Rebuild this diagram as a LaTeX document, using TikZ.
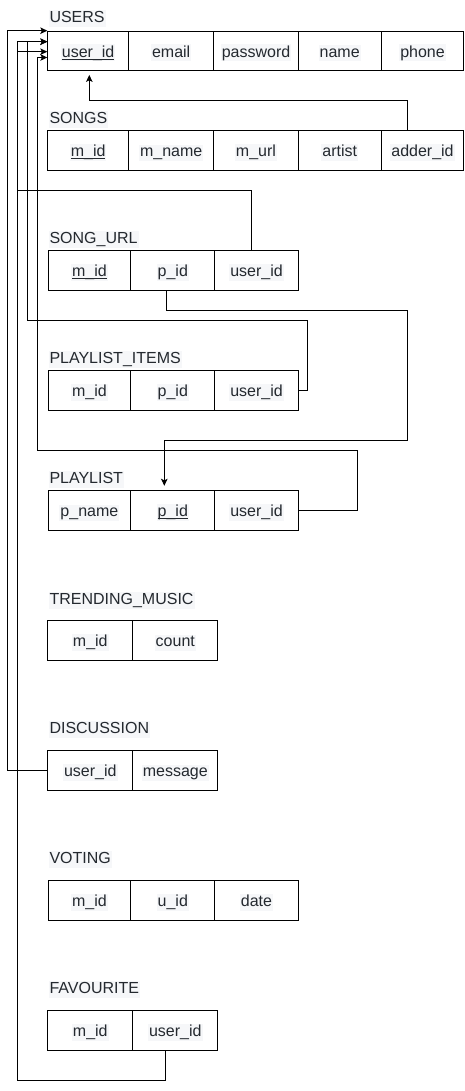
\documentclass[tikz,border=0pt]{standalone}
\usepackage{fontspec}
\setmainfont{Liberation Sans}
\usetikzlibrary{arrows.meta}
\definecolor{txt}{RGB}{36,41,47}
\definecolor{hlc}{RGB}{246,247,249}
\newcommand{\hl}[1]{{\setlength{\fboxsep}{1pt}\colorbox{hlc}{\vphantom{Ag}#1}}}
\newcommand{\ulk}[1]{\setbox0\hbox{#1}\rlap{\rule[-2.6pt]{\wd0}{1pt}}\box0}
\tikzset{
  cell/.style={draw=black, line width=1pt, anchor=north west, minimum height=39.7pt,
    inner sep=0pt, text height=14pt, text depth=2pt, text=txt, font=\fontsize{16}{19}\selectfont},
  ttl/.style={anchor=base west, inner sep=0pt, text=txt, font=\fontsize{16}{19}\selectfont},
  conn/.style={draw=black, line width=1pt},
  arr/.style={conn, -{Stealth[length=7pt,width=6.5pt,inset=1.6pt]}}
}
\begin{document}
\begin{tikzpicture}[x=1pt,y=-1pt]
\useasboundingbox (0,0) rectangle (465,1091);
% USERS
\node[ttl] (lu) at (48.3,22.5) {\hl{USERS}};
\node[cell, minimum width=80.7pt] (u1) at (47.3,30.7) {\hl{\ulk{user\_id}}};
\node[cell, minimum width=85.3pt] (u2) at (128,30.7) {\hl{email}};
\node[cell, minimum width=84.4pt] (u3) at (213.3,30.7) {\hl{password}};
\node[cell, minimum width=83pt] (u4) at (297.7,30.7) {\hl{name}};
\node[cell, minimum width=82.6pt] (u5) at (380.7,30.7) {\hl{phone}};
% SONGS
\node[ttl] (ls) at (48.3,123.3) {\hl{SONGS}};
\node[cell, minimum width=80.7pt] (s1) at (47.3,130.3) {\hl{\ulk{m\_id}}};
\node[cell, minimum width=85.3pt] (s2) at (128,130.3) {\hl{m\_name}};
\node[cell, minimum width=84.4pt] (s3) at (213.3,130.3) {\hl{m\_url}};
\node[cell, minimum width=83pt] (s4) at (297.7,130.3) {\hl{artist}};
\node[cell, minimum width=82.6pt] (s5) at (380.7,130.3) {\hl{adder\_id}};
% SONG_URL
\node[ttl] (lsu) at (48.3,243.3) {\hl{SONG\_URL}};
\node[cell, minimum width=82.8pt] (su1) at (47.5,250.3) {\hl{\ulk{m\_id}}};
\node[cell, minimum width=84pt] (su2) at (130.3,250.3) {\hl{p\_id}};
\node[cell, minimum width=83.4pt] (su3) at (214.3,250.3) {\hl{user\_id}};
% PLAYLIST_ITEMS
\node[ttl] (lpi) at (48.3,363.3) {\hl{PLAYLIST\_ITEMS}};
\node[cell, minimum width=82.8pt] (pi1) at (47.5,370.3) {\hl{m\_id}};
\node[cell, minimum width=84pt] (pi2) at (130.3,370.3) {\hl{p\_id}};
\node[cell, minimum width=83.4pt] (pi3) at (214.3,370.3) {\hl{user\_id}};
% PLAYLIST
\node[ttl] (lpl) at (48.3,483.3) {\hl{PLAYLIST}};
\node[cell, minimum width=82.8pt] (pl1) at (47.5,490.3) {\hl{p\_name}};
\node[cell, minimum width=84pt] (pl2) at (130.3,490.3) {\hl{\ulk{p\_id}}};
\node[cell, minimum width=83.4pt] (pl3) at (214.3,490.3) {\hl{user\_id}};
% TRENDING_MUSIC
\node[ttl] (ltm) at (48.3,604.3) {\hl{TRENDING\_MUSIC}};
\node[cell, minimum width=85pt] (tm1) at (47.3,620.3) {\hl{m\_id}};
\node[cell, minimum width=85pt] (tm2) at (132.3,620.3) {\hl{count}};
% DISCUSSION
\node[ttl] (ld) at (48.3,733.3) {\hl{DISCUSSION}};
\node[cell, minimum width=85pt] (d1) at (47.3,750.3) {\hl{user\_id}};
\node[cell, minimum width=85pt] (d2) at (132.3,750.3) {\hl{message}};
% VOTING
\node[ttl] (lv) at (48.3,863.3) {\hl{VOTING}};
\node[cell, minimum width=82.8pt] (v1) at (47.5,880.3) {\hl{m\_id}};
\node[cell, minimum width=84pt] (v2) at (130.3,880.3) {\hl{u\_id}};
\node[cell, minimum width=83.4pt] (v3) at (214.3,880.3) {\hl{date}};
% FAVOURITE
\node[ttl] (lf) at (48.3,993.3) {\hl{FAVOURITE}};
\node[cell, minimum width=85pt] (f1) at (47.3,1010.3) {\hl{m\_id}};
\node[cell, minimum width=85pt] (f2) at (132.3,1010.3) {\hl{user\_id}};
% connectors
\draw[arr, shorten >=3.5pt] (407,0 |- s5.north) |- (89.3,100.7) -- (89.3,0 |- u1.south);
\draw[arr] (251.3,0 |- su3.north) |- (17.3,190.3) -- (17.3,41.7) -- (u1.west |- 0,41.7);
\draw[arr] (pi3.east) -- (307,0 |- pi3.east) |- (27.3,320.3) -- (27.3,41.7) -- (u1.west |- 0,41.7);
\draw[arr] (pl3.east) -- (357.7,0 |- pl3.east) |- (37.3,450.3) -- (37.3,57.5) -- (u1.west |- 0,57.5);
\draw[arr] (d1.west) -- (7.5,0 |- d1.west) |- (u1.north west);
\draw[arr] (165.7,0 |- f2.south) |- (17.3,1080) -- (17.3,51.7) -- (u1.west |- 0,51.7);
\draw[arr, shorten >=4.5pt] (166.3,0 |- su2.south) |- (407.3,310.3) |- (164.3,440) -- (164.3,0 |- pl2.north);
\end{tikzpicture}
\end{document}
